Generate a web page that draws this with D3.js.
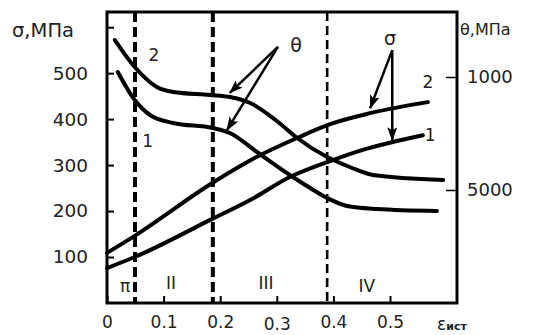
<!DOCTYPE html>
<html>
<head>
<meta charset="utf-8">
<script src="https://cdn.jsdelivr.net/npm/d3@7"></script>
<style>
  body { margin: 0; background: #fff; }
  svg { display: block; font-family: "DejaVu Sans", Verdana, sans-serif; }
  .label { fill: #222; }
</style>
</head>
<body>
<div id="chart"></div>
<script>
// strain (x) and the two families of curves
const strainTicks = [0, 0.1, 0.2, 0.3, 0.4, 0.5];
const strainTickLabels = ['0', '0.1', '0.2', '0.3', '0.4', '0.5'];

const sigmaTicks = [100, 200, 300, 400, 500, 600];
const sigmaTickLabels = ['100', '200', '300', '400', '500', ''];

const thetaTicks = [10000, 5000];
const thetaTickLabels = ['1000', '5000'];

// stage boundaries (dashed verticals)
const stageBounds = [0.0495, 0.187, 0.389];
const stageNames = ['π', 'II', 'III', 'IV'];
const stageNamePos = [0.032, 0.113, 0.281, 0.459];

// σ curves, MPa
const sigma2 = [[0, 109], [0.049, 146], [0.186, 261], [0.265, 318], [0.336, 359],
                [0.394, 389], [0.465, 413], [0.567, 437]];
const sigma1 = [[0, 76], [0.049, 100], [0.186, 183], [0.253, 224], [0.323, 274],
                [0.399, 311], [0.452, 333], [0.558, 365]];

// θ curves, MPa (right axis)
const theta2 = [[0.014, 11637], [0.049, 10442], [0.088, 9558], [0.117, 9336], [0.182, 9204],
                [0.217, 9115], [0.253, 8850], [0.300, 8053], [0.336, 7301], [0.389, 6460],
                [0.429, 6018], [0.470, 5664], [0.594, 5442]];
const theta1 = [[0.019, 10221], [0.049, 8982], [0.076, 8319], [0.117, 7965], [0.187, 7743],
                [0.217, 7522], [0.265, 6681], [0.323, 5664], [0.359, 5088], [0.389, 4646],
                [0.424, 4292], [0.477, 4159], [0.583, 4071]];

const WIDTH = 534;
const HEIGHT = 335;
const PLOT_LEFT = 107;
const PLOT_RIGHT = 457;
const PLOT_TOP = 12;
const PLOT_BOTTOM = 303;
const TEXT_COLOR = '#222';

const svg = d3.select('#chart').append('svg')
    .attr('width', WIDTH)
    .attr('height', HEIGHT);

const x = d3.scaleLinear().domain([0, 0.6184]).range([PLOT_LEFT, PLOT_RIGHT]);
const ySigma = d3.scaleLinear().domain([0, 633]).range([PLOT_BOTTOM, PLOT_TOP]);
const yTheta = d3.scaleLinear().domain([0, 12876]).range([PLOT_BOTTOM, PLOT_TOP]);

svg.append('defs').append('marker')
    .attr('id', 'arrow')
    .attr('markerUnits', 'userSpaceOnUse')
    .attr('viewBox', '0 0 14 10')
    .attr('markerWidth', 14)
    .attr('markerHeight', 10)
    .attr('refX', 13)
    .attr('refY', 5)
    .attr('orient', 'auto')
  .append('path')
    .attr('d', 'M0,0 L14,5 L0,10 L3,5 z')
    .attr('fill', '#000');

// axes, ticks point inward
const bottomAxis = svg.append('g')
    .attr('transform', `translate(0,${PLOT_BOTTOM})`)
    .call(d3.axisBottom(x).tickValues(strainTicks)
        .tickFormat((d, i) => strainTickLabels[i])
        .tickSize(-7).tickPadding(13));

const leftAxis = svg.append('g')
    .attr('transform', `translate(${PLOT_LEFT},0)`)
    .call(d3.axisLeft(ySigma).tickValues(sigmaTicks)
        .tickFormat((d, i) => sigmaTickLabels[i])
        .tickSize(-7).tickPadding(19));

const rightAxis = svg.append('g')
    .attr('transform', `translate(${PLOT_RIGHT},0)`)
    .call(d3.axisRight(yTheta).tickValues(thetaTicks)
        .tickFormat((d, i) => thetaTickLabels[i])
        .tickSize(-11).tickPadding(10));

[bottomAxis, leftAxis, rightAxis].forEach(g => {
    g.select('.domain').remove();
    g.selectAll('.tick line').attr('stroke', '#000').attr('stroke-width', 2);
    g.selectAll('.tick text')
        .attr('fill', TEXT_COLOR)
        .attr('font-size', 17)
        .attr('font-family', '"DejaVu Sans", Verdana, sans-serif');
});
leftAxis.selectAll('.tick text').attr('font-size', 18.5);
rightAxis.selectAll('.tick text').attr('font-size', 18);
rightAxis.selectAll('.tick line').attr('stroke-width', 1.5);
bottomAxis.selectAll('.tick text').attr('dy', (d, i) => i === 3 ? '0.85em' : '0.71em');

// stage boundaries
svg.selectAll('.stage-line')
    .data(stageBounds)
    .join('line')
    .attr('class', 'stage-line')
    .attr('x1', d => x(d))
    .attr('x2', d => x(d))
    .attr('y1', PLOT_TOP)
    .attr('y2', PLOT_BOTTOM)
    .attr('stroke', '#000')
    .attr('stroke-width', (d, i) => i < 2 ? 4 : 2.6)
    .attr('stroke-dasharray', (d, i) => i < 2 ? '10,5' : '9,5');

svg.selectAll('.stage-name')
    .data(stageNames)
    .join('text')
    .attr('class', 'label stage-name')
    .attr('x', (d, i) => x(stageNamePos[i]))
    .attr('y', (d, i) => ySigma(i === 0 || i === 3 ? 36 : 43))
    .attr('text-anchor', 'middle')
    .attr('dominant-baseline', 'central')
    .attr('font-size', 17)
    .text(d => d);

// curves
const sigmaLine = d3.line().x(d => x(d[0])).y(d => ySigma(d[1])).curve(d3.curveMonotoneX);
const thetaLine = d3.line().x(d => x(d[0])).y(d => yTheta(d[1])).curve(d3.curveMonotoneX);

svg.selectAll('.sigma-curve')
    .data([sigma2, sigma1])
    .join('path')
    .attr('class', 'sigma-curve')
    .attr('d', sigmaLine)
    .attr('fill', 'none')
    .attr('stroke', '#000')
    .attr('stroke-width', 4)
    .attr('stroke-linecap', 'round');

svg.selectAll('.theta-curve')
    .data([theta2, theta1])
    .join('path')
    .attr('class', 'theta-curve')
    .attr('d', thetaLine)
    .attr('fill', 'none')
    .attr('stroke', '#000')
    .attr('stroke-width', 4)
    .attr('stroke-linecap', 'round');

// frame
svg.append('rect')
    .attr('x', PLOT_LEFT)
    .attr('y', PLOT_TOP)
    .attr('width', PLOT_RIGHT - PLOT_LEFT)
    .attr('height', PLOT_BOTTOM - PLOT_TOP)
    .attr('fill', 'none')
    .attr('stroke', '#000')
    .attr('stroke-width', 3);

// curve numbers
const curveNumbers = [
    { text: '2', x: 0.083, s: 539 },
    { text: '1', x: 0.072, s: 352 },
    { text: '2', x: 0.567, s: 481 },
    { text: '1', x: 0.571, s: 365 }
];
svg.selectAll('.curve-num')
    .data(curveNumbers)
    .join('text')
    .attr('class', 'label curve-num')
    .attr('x', d => x(d.x))
    .attr('y', d => ySigma(d.s))
    .attr('text-anchor', 'middle')
    .attr('dominant-baseline', 'central')
    .attr('font-size', 17)
    .text(d => d.text);

// θ and σ callouts
const thetaFrom = [0.302, 557];
const sigmaFrom = [0.504, 550];
const thetaArrows = [[theta2[5][0], theta2[5][1] + 180], [0.212, theta1[5][1] + 130]];
const sigmaArrows = [[sigma2[6][0], sigma2[6][1] + 11], [0.504, 354]];

svg.selectAll('.theta-arrow')
    .data(thetaArrows)
    .join('line')
    .attr('class', 'theta-arrow')
    .attr('x1', x(thetaFrom[0]))
    .attr('y1', ySigma(thetaFrom[1]))
    .attr('x2', d => x(d[0]))
    .attr('y2', d => yTheta(d[1]))
    .attr('stroke', '#000')
    .attr('stroke-width', 2.5)
    .attr('marker-end', 'url(#arrow)');

svg.selectAll('.sigma-arrow')
    .data(sigmaArrows)
    .join('line')
    .attr('class', 'sigma-arrow')
    .attr('x1', x(sigmaFrom[0]))
    .attr('y1', ySigma(sigmaFrom[1]))
    .attr('x2', d => x(d[0]))
    .attr('y2', d => ySigma(d[1]))
    .attr('stroke', '#000')
    .attr('stroke-width', 2.5)
    .attr('marker-end', 'url(#arrow)');

svg.append('text')
    .attr('class', 'label')
    .attr('x', x(0.334))
    .attr('y', ySigma(561))
    .attr('text-anchor', 'middle')
    .attr('dominant-baseline', 'central')
    .attr('font-size', 19)
    .text('θ');

svg.append('text')
    .attr('class', 'label')
    .attr('x', x(0.5))
    .attr('y', ySigma(577))
    .attr('text-anchor', 'middle')
    .attr('dominant-baseline', 'central')
    .attr('font-size', 19)
    .text('σ');

// axis titles
svg.append('text')
    .attr('class', 'label')
    .attr('x', 12)
    .attr('y', 30)
    .attr('dominant-baseline', 'central')
    .attr('font-size', 19.5)
    .text('σ,МПа');

svg.append('text')
    .attr('class', 'label')
    .attr('x', 460)
    .attr('y', 29)
    .attr('dominant-baseline', 'central')
    .attr('font-size', 16)
    .text('θ,МПа');

const epsLabel = svg.append('text')
    .attr('class', 'label')
    .attr('x', 437)
    .attr('y', 330)
    .attr('font-size', 17);
epsLabel.append('tspan').text('ε');
epsLabel.append('tspan').attr('font-size', 11).attr('font-weight', 'bold').text('ист');
</script>
</body>
</html>
